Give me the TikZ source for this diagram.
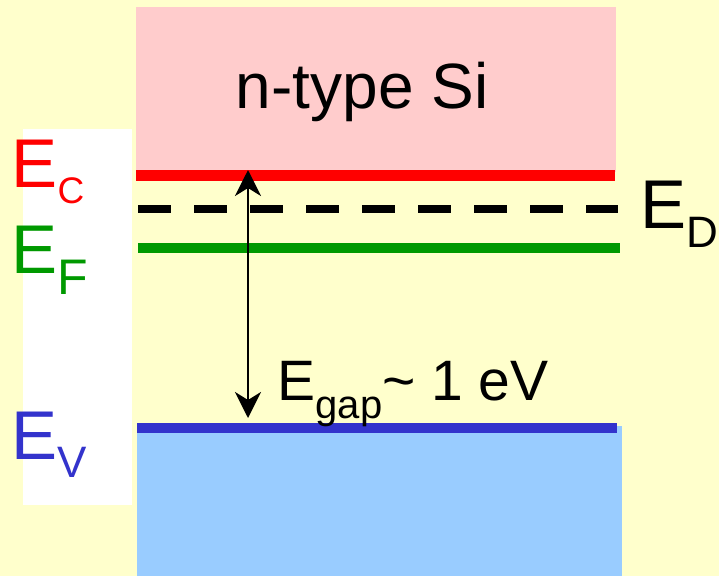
\documentclass[tikz,border=0pt]{standalone}
\usepackage{fontspec}
\setmainfont{Liberation Sans}
\usetikzlibrary{arrows.meta}
\definecolor{bgyellow}{RGB}{255,255,204}
\definecolor{condpink}{RGB}{255,204,204}
\definecolor{valblue}{RGB}{153,204,255}
\definecolor{ecred}{RGB}{255,0,0}
\definecolor{efgreen}{RGB}{0,153,0}
\definecolor{evblue}{RGB}{51,51,204}

% E with a lowered index: size, drop, letter
\newcommand{\lvl}[3]{{\fontsize{69}{69}\selectfont E}\raisebox{-#2pt}{\fontsize{#1}{#1}\selectfont #3}}

\begin{document}
\begin{tikzpicture}[x=1pt, y=-1pt,
  level/.style={line width=10pt},
  lbl/.style={anchor=base west, inner sep=0pt, outer sep=0pt},
  arrow/.style={{Stealth[length=26pt,width=26pt,inset=8pt]}-{Stealth[length=26pt,width=26pt,inset=8pt]}, line width=2.5pt, black}
]
\useasboundingbox (0,0) rectangle (719,576);
\fill[bgyellow] (0,0) rectangle (719,576);
\fill[white] (23,129) rectangle (132,505);

% bands
\fill[condpink] (136,7) rectangle (616,172);
\fill[valblue] (137,426) rectangle (621.5,576);

% levels
\draw[level, ecred, line width=10.5pt] (136,175.5) -- (615,175.5);
\draw[level, black, line width=8pt, dash pattern=on 33pt off 23pt] (138,209) -- (618,209);
\draw[level, efgreen] (138,248) -- (620,248);
\draw[level, evblue] (137,428) -- (617,428);

% gap arrow
\coordinate (ctop) at (248,170);
\coordinate (cbot) at (248,418);
\draw[arrow] (ctop) -- (cbot);

% labels
\node[lbl] (title) at (235.8,108) {\fontsize{64}{64}\selectfont n-type Si};
\node[lbl, ecred] (ec) at (11.5,187) {\lvl{37}{16}{C}};
\node[lbl, efgreen] (ef) at (11.5,273) {\lvl{50}{21}{F}};
\node[lbl, evblue] (ev) at (11,459) {\lvl{44}{18}{V}};
\node[lbl] (ed) at (640.5,228) {\lvl{44}{19}{D}};
\node[lbl] (egap) at (277.5,400) {\fontsize{57}{57}\selectfont E\raisebox{-18pt}{\fontsize{40}{40}\selectfont gap}\textasciitilde{} 1 eV};
\end{tikzpicture}
\end{document}
